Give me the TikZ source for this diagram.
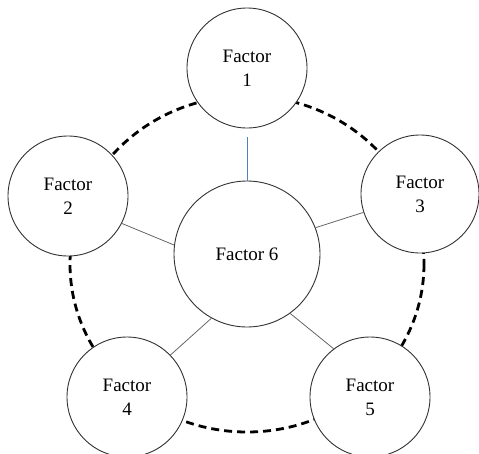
\documentclass[tikz,border=0pt]{standalone}
\usepackage{fontspec}
\setmainfont{Liberation Serif}
\definecolor{steel}{RGB}{79,129,189}
\begin{document}
\begin{tikzpicture}[x=1pt,y=-1pt,
  factor/.style={circle,draw=black!80,fill=white,line width=0.9pt,minimum size=#1,inner sep=0pt,align=center,font=\fontsize{19}{24}\selectfont},
  link/.style={draw=black!60,line width=0.8pt},
  bluelink/.style={draw=steel,line width=0.8pt},
  ring/.style={line width=2.8pt,dash pattern=on 8pt off 5pt}]
\useasboundingbox (0,0) rectangle (479,453);
\draw[ring] (247,264) ellipse [x radius=177, y radius=168];
\node[factor=120] (f1) at (247,68) {Factor\\1};
\node[factor=120] (f2) at (68,196) {Factor\\2};
\node[factor=118] (f3) at (420,194) {Factor\\3};
\node[factor=120] (f4) at (127,397) {Factor\\4};
\node[factor=120] (f5) at (370,397) {Factor\\5};
\node[factor=146] (f6) at (247,254) {Factor 6};
\draw[bluelink] ([yshift=-9pt]f1.south) -- (f6.north);
\draw[link] (f2.-27) -- (f6.173);
\draw[link] (f3.198) -- (f6.21);
\draw[link] (f6.241) -- (f4.44);
\draw[link] (f6.-54) -- (f5.127);
\end{tikzpicture}
\end{document}
